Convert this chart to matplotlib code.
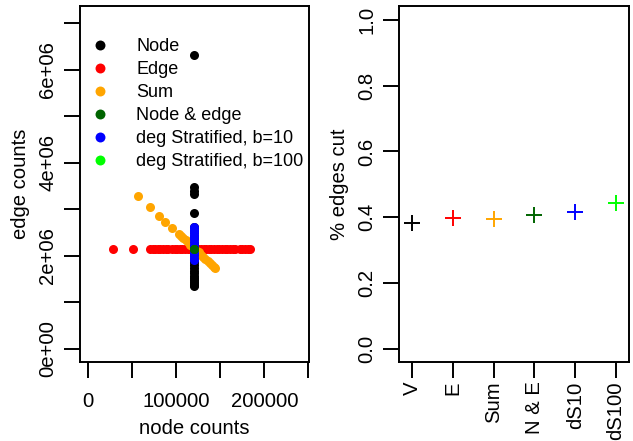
import numpy as np
import matplotlib
matplotlib.use("Agg")
import matplotlib.pyplot as plt
from matplotlib.ticker import FixedLocator

plt.rcParams['font.family'] = ['Liberation Sans', 'DejaVu Sans']

# --- left panel: node counts vs edge counts per sampling method ---
node_x = [120450] * 24
node_y = [6.32e6, 3.47e6, 3.40e6, 3.33e6, 2.91e6, 2.62e6, 2.50e6, 2.38e6,
          2.26e6, 2.14e6, 2.02e6, 1.91e6, 1.86e6, 1.80e6, 1.74e6, 1.68e6,
          1.62e6, 1.57e6, 1.52e6, 1.48e6, 1.44e6, 1.40e6, 1.37e6, 1.35e6]

edge_x = [28400, 51100, 70100, 73000, 76000, 79000, 82000, 85000, 88000,
          91000, 95000, 98000, 101000, 104000, 107000, 110000, 113000,
          116000, 119000, 122000, 125000, 128000, 131000, 134000, 137000,
          140000, 143000, 146000, 149000, 152000, 155000, 158000, 161000,
          164000, 167000, 172000, 175000, 178000, 181000, 183700]
edge_y = [2.14e6] * len(edge_x)

sum_x = [56900, 70100, 80700, 87200, 94800, 103100, 105500, 108000, 110500,
         113000, 115500, 118000, 120500, 123000, 125500, 128000, 130500,
         133000, 135500, 138000, 140500, 142500, 144000]
sum_y = [3.28e6, 3.05e6, 2.86e6, 2.73e6, 2.59e6, 2.46e6, 2.42e6, 2.37e6,
         2.33e6, 2.29e6, 2.24e6, 2.20e6, 2.16e6, 2.11e6, 2.07e6, 2.02e6,
         1.98e6, 1.93e6, 1.89e6, 1.85e6, 1.80e6, 1.76e6, 1.73e6]

ne_x = [120450, 120450]
ne_y = [2.14e6, 2.15e6]

ds10_x = [120450] * 14
ds10_y = [2.62e6, 2.56e6, 2.50e6, 2.45e6, 2.40e6, 2.35e6, 2.30e6, 2.24e6,
          2.18e6, 2.12e6, 2.06e6, 2.01e6, 1.96e6, 1.91e6]

ds100_x = [120450, 120450, 120450]
ds100_y = [2.12e6, 2.15e6, 2.18e6]

legend_labels = ["Node", "Edge", "Sum", "Node & edge",
                 "deg Stratified, b=10", "deg Stratified, b=100"]
colors = ["black", "red", "orange", "darkgreen", "blue", "lime"]

# --- right panel: fraction of edges cut ---
methods = ["V", "E", "Sum", "N & E", "dS10", "dS100"]
edges_cut = [0.383, 0.399, 0.394, 0.408, 0.416, 0.444]

fig = plt.figure(figsize=(6.33, 4.41), dpi=100)
ax1 = fig.add_axes([80 / 633, 1 - 362 / 441, 229 / 633, 356 / 441])
ax2 = fig.add_axes([399.3 / 633, 1 - 362 / 441, 229.7 / 633, 356 / 441])

ms = 6.5
series = [(node_x, node_y), (edge_x, edge_y), (sum_x, sum_y),
          (ds100_x, ds100_y), (ds10_x, ds10_y), (ne_x, ne_y)]
# bright green drawn before the dark green so it shows as a ring
order = [0, 1, 2, 5, 4, 3]
handles = [None] * 6
for (xs, ys), k in zip(series, order):
    h, = ax1.plot(xs, ys, 'o', color=colors[k], ms=ms, mec='none')
    handles[k] = h
ax1.legend(handles, legend_labels, loc='upper left',
           bbox_to_anchor=(0.048, 0.91), frameon=False, fontsize=13,
           handlelength=1.0, handletextpad=1.5, labelspacing=0.33,
           borderpad=0, borderaxespad=0, markerscale=1.1)

ax1.set_xlim(-9400, 250800)
ax1.set_ylim(-0.286e6, 7.37e6)
ax1.xaxis.set_major_locator(FixedLocator([0, 50000, 100000, 150000, 200000, 250000]))
ax1.set_xticklabels(["0", "", "100000", "", "200000", ""])
ax1.yaxis.set_major_locator(FixedLocator(np.arange(0, 8) * 1e6))
ax1.set_yticklabels(["0e+00", "", "2e+06", "", "4e+06", "", "6e+06", ""],
                    rotation=90, va='center')
ax1.set_xlabel("node counts", fontsize=14.6, labelpad=6)
ax1.set_ylabel("edge counts", fontsize=14.6, labelpad=6)

pos = np.arange(1, len(methods) + 1)
for p, v, c in zip(pos, edges_cut, colors):
    ax2.plot([p], [v], '+', color=c, ms=12, mew=1.4)
ax2.set_xlim(0.69, 6.32)
ax2.set_ylim(-0.0405, 1.0426)
ax2.set_xticks(pos)
ax2.set_xticklabels(methods, rotation=90, ha='center', va='top')
ax2.set_yticks([0, 0.2, 0.4, 0.6, 0.8, 1.0])
ax2.set_yticklabels(["0.0", "0.2", "0.4", "0.6", "0.8", "1.0"],
                    rotation=90, va='center')
ax2.set_ylabel("% edges cut", fontsize=14.6, labelpad=6)

for ax in (ax1, ax2):
    ax.tick_params(length=11.5, width=1.4, labelsize=14.6, pad=5, direction='out')
    for s in ax.spines.values():
        s.set_linewidth(1.4)
ax1.tick_params(axis='x', pad=10)
ax2.tick_params(axis='x', pad=2.5)

fig.savefig("out.png", dpi=100)
